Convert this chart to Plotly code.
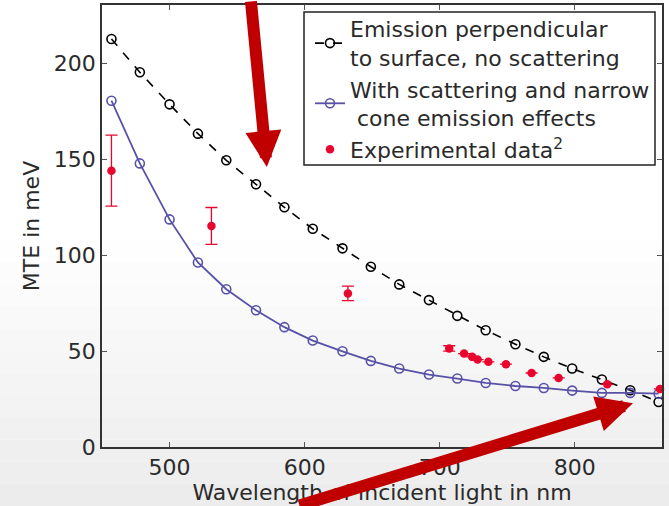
import plotly.graph_objects as go

# ---- data ----
wavelength_nm = [457, 478, 500, 521, 542, 564, 585, 606, 628, 649,
                 670, 692, 713, 734, 756, 777, 798, 820, 841, 862]
mte_perpendicular = [212.8, 195.4, 178.7, 163.4, 149.5, 137.0, 125.0, 113.8, 103.6, 94.0,
                     84.8, 76.6, 68.4, 60.9, 53.6, 47.0, 40.9, 35.2, 29.6, 23.5]
mte_scattering = [180.6, 147.9, 118.7, 96.2, 82.3, 71.3, 62.5, 55.5, 49.9, 44.9,
                  40.9, 37.8, 35.7, 33.4, 31.8, 30.8, 29.4, 28.2, 28.2, 27.8]
exp_wavelength = [457, 531, 632, 707, 718, 724, 728, 736, 749, 768, 788, 824, 863]
exp_mte = [144.1, 115.3, 80.1, 51.4, 48.7, 47.0, 45.6, 44.4, 43.2, 38.6, 36.0, 32.7, 30.3]
exp_err = [18.5, 9.6, 3.8, 1.4, 0, 0, 0, 0, 0, 0, 0, 0, 0]

x_ticks = [500, 600, 700, 800]
y_ticks = [0, 50, 100, 150, 200]

W, H = 669, 506
ML, MR, MT, MB = 102, 7, 5, 59
FONT = "DejaVu Sans, Liberation Sans, Arial, sans-serif"
TXT = "#2a2a2a"
BLUE = "#5752a8"
RED = "#e8062e"
ARROW = "#c00000"

fig = go.Figure()

fig.add_trace(go.Scatter(
    x=wavelength_nm, y=mte_perpendicular, mode="lines+markers",
    name="Emission perpendicular<br>to surface, no scattering",
    line=dict(color="black", width=1.6, dash="dash"),
    marker=dict(symbol="circle-open", size=9, color="black", line=dict(width=1.6)),
    cliponaxis=False,
))
fig.add_trace(go.Scatter(
    x=wavelength_nm, y=mte_scattering, mode="lines+markers",
    name="With scattering and narrow<br> cone emission effects",
    line=dict(color=BLUE, width=1.8),
    marker=dict(symbol="circle-open", size=9, color=BLUE, line=dict(width=1.6)),
    cliponaxis=False,
))
fig.add_trace(go.Scatter(
    x=exp_wavelength, y=exp_mte, mode="markers",
    name="Experimental data<sup>2</sup>",
    marker=dict(symbol="circle", size=8.5, color=RED),
    error_y=dict(type="data", array=exp_err, visible=True, color=RED,
                 thickness=1.3, width=6),
    cliponaxis=False,
))

pw = W - ML - MR
ph = H - MT - MB


def px_x(p):
    return (p - ML) / pw


def px_y(p):
    return 1 - (p - MT) / ph


# background gradient (screenshot of a slide)
shapes = []
n = 12
y_start = 240
for i in range(n):
    ytop = y_start + (H - y_start) * i / n
    ybot = y_start + (H - y_start) * (i + 1) / n
    g = int(255 - (255 - 236) * (i + 0.5) / n)
    shapes.append(dict(
        type="rect", xref="paper", yref="paper", layer="below",
        x0=px_x(0), x1=px_x(W), y0=px_y(ybot), y1=px_y(ytop),
        fillcolor=f"rgb({g},{g},{g})", line=dict(width=0),
    ))

# legend frame
shapes.append(dict(
    type="rect", xref="paper", yref="paper", layer="above",
    x0=px_x(304), x1=px_x(655), y0=px_y(165), y1=px_y(12),
    fillcolor="white", line=dict(color="#222222", width=1.5),
))

annotations = [
    dict(x=572, y=146, xref="x", yref="y", ax=-16, ay=-175, axref="pixel", ayref="pixel",
         text="", showarrow=True, arrowhead=2, arrowsize=0.6, arrowwidth=12,
         arrowcolor=ARROW),
    dict(x=843, y=22.8, xref="x", yref="y", ax=-335, ay=115, axref="pixel", ayref="pixel",
         text="", showarrow=True, arrowhead=2, arrowsize=0.6, arrowwidth=12,
         arrowcolor=ARROW),
]

axis_common = dict(
    showgrid=False, zeroline=False, showline=True, linecolor="#333333", linewidth=1.5,
    mirror="ticks", ticks="inside", ticklen=5, tickcolor="#555555", tickwidth=1,
    tickfont=dict(family=FONT, size=22, color=TXT), automargin=False,
)

fig.update_layout(
    template="none",
    width=W, height=H,
    margin=dict(l=ML, r=MR, t=MT, b=MB, pad=0),
    paper_bgcolor="white", plot_bgcolor="white",
    font=dict(family=FONT, color=TXT),
    shapes=shapes,
    annotations=annotations,
    showlegend=True,
    legend=dict(
        x=px_x(310), y=px_y(8), xanchor="left", yanchor="top",
        bgcolor="rgba(0,0,0,0)", borderwidth=0,
        font=dict(family=FONT, size=22, color=TXT),
        tracegroupgap=0, itemwidth=30,
    ),
    xaxis=dict(range=[450, 864.5], tickvals=x_ticks, autorange=False,
               title=dict(text="Wavelength of incident light in nm", standoff=2,
                          font=dict(family=FONT, size=22, color=TXT)),
               **axis_common),
    yaxis=dict(range=[0, 230.5], tickvals=y_ticks, autorange=False,
               title=dict(text="MTE in meV", standoff=8,
                          font=dict(family=FONT, size=22, color=TXT)),
               **axis_common),
)

fig.write_html("out.html", config={"displayModeBar": False},
               post_script="document.body.style.margin='0';")
